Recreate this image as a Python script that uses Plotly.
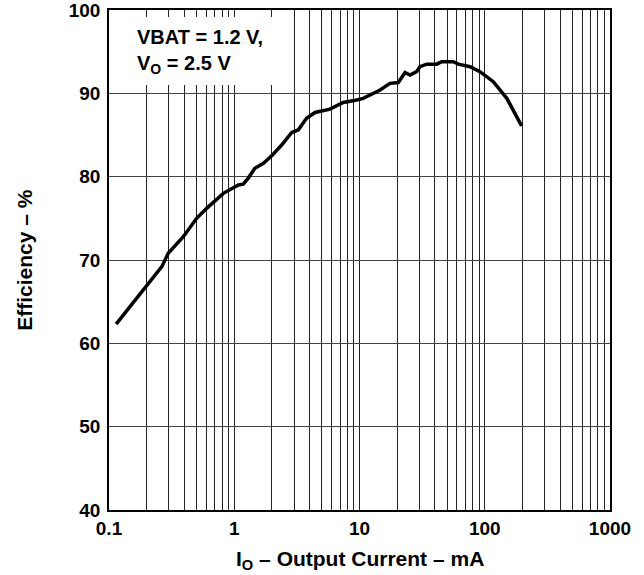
import plotly.graph_objects as go

# Data
current_ma = [0.114, 0.150, 0.188, 0.264, 0.297, 0.392, 0.501, 0.602, 0.818, 1.08, 1.18,
              1.29, 1.46, 1.71, 1.99, 2.39, 2.88, 3.24, 3.78, 4.41, 5.81,
              7.42, 9.50, 10.7, 14.6, 17.5, 20.4, 23.1, 25.3, 28.6, 30.4,
              34.4, 41.3, 45.3, 56.1, 61.5, 76.3, 91.6, 117, 150, 197]
efficiency = [62.3, 64.6, 66.4, 69.2, 70.8, 72.8, 75.0, 76.2, 78.0, 79.0, 79.1,
              79.8, 81.0, 81.6, 82.5, 83.8, 85.3, 85.6, 87.0, 87.7, 88.1,
              88.9, 89.2, 89.4, 90.4, 91.2, 91.3, 92.5, 92.2, 92.6, 93.2,
              93.5, 93.5, 93.8, 93.8, 93.5, 93.2, 92.6, 91.4, 89.4, 86.1]

x_tickvals = [0.1, 1, 10, 100, 1000]
x_ticktext = ["0.1", "1", "10", "100", "1000"]
y_tickvals = [40, 50, 60, 70, 80, 90, 100]

x_title = "I<sub>O</sub> – Output Current – mA"
y_title = "Efficiency – %"
note = "VBAT = 1.2 V,<br>V<sub>O</sub> = 2.5 V"

FONT = "Liberation Sans, Arial, Helvetica, sans-serif"
GRID = "#222222"

fig = go.Figure()
fig.add_trace(go.Scatter(
    x=current_ma, y=efficiency, mode="lines",
    line=dict(color="black", width=3.5),
    showlegend=False, hoverinfo="skip"))

fig.add_shape(type="rect", xref="x domain", yref="y domain",
              x0=0.004, x1=0.35, y0=0.85, y1=0.986,
              fillcolor="white", line=dict(width=0), layer="above")

fig.add_annotation(xref="x domain", yref="y domain", x=0.052, y=0.972,
                   xanchor="left", yanchor="top", align="left", showarrow=False,
                   text=note,
                   font=dict(family=FONT, size=20, color="black", weight="bold"))

# axis titles
fig.add_annotation(xref="paper", yref="paper", x=0.5, y=-0.099,
                   xanchor="center", yanchor="middle", showarrow=False,
                   text=x_title,
                   font=dict(family=FONT, size=21, color="black", weight="bold"))
fig.add_annotation(xref="paper", yref="paper", x=-0.17, y=0.5, textangle=-90,
                   xanchor="center", yanchor="middle", showarrow=False,
                   text=y_title,
                   font=dict(family=FONT, size=21, color="black", weight="bold"))

fig.update_layout(
    width=644, height=575,
    margin=dict(l=109, r=34, t=10, b=65),
    paper_bgcolor="white", plot_bgcolor="white",
    font=dict(family=FONT, color="black", weight="bold"),
    xaxis=dict(
        type="log", range=[-1, 3], automargin=False,
        tickmode="array", tickvals=x_tickvals, ticktext=x_ticktext,
        tickfont=dict(size=19, family=FONT, weight="bold"),
        ticks="", ticklabeloverflow="allow",
        showgrid=True, gridcolor=GRID, gridwidth=1,
        minor=dict(dtick="D1", showgrid=True, gridcolor=GRID, gridwidth=1, ticks=""),
        showline=True, linecolor="black", linewidth=1.5, mirror=True,
        zeroline=False,
    ),
    yaxis=dict(
        range=[40, 100], tickmode="array", tickvals=y_tickvals, automargin=False,
        tickfont=dict(size=19, family=FONT, weight="bold"),
        ticks="outside", ticklen=3, tickcolor="rgba(0,0,0,0)",
        ticklabeloverflow="allow",
        showgrid=True, gridcolor="#444444", gridwidth=1,
        showline=True, linecolor="black", linewidth=1.5, mirror=True,
        zeroline=False,
    ),
)

fig.write_html("out.html", config={"displayModeBar": False},
               post_script="document.body.style.margin='0';")
